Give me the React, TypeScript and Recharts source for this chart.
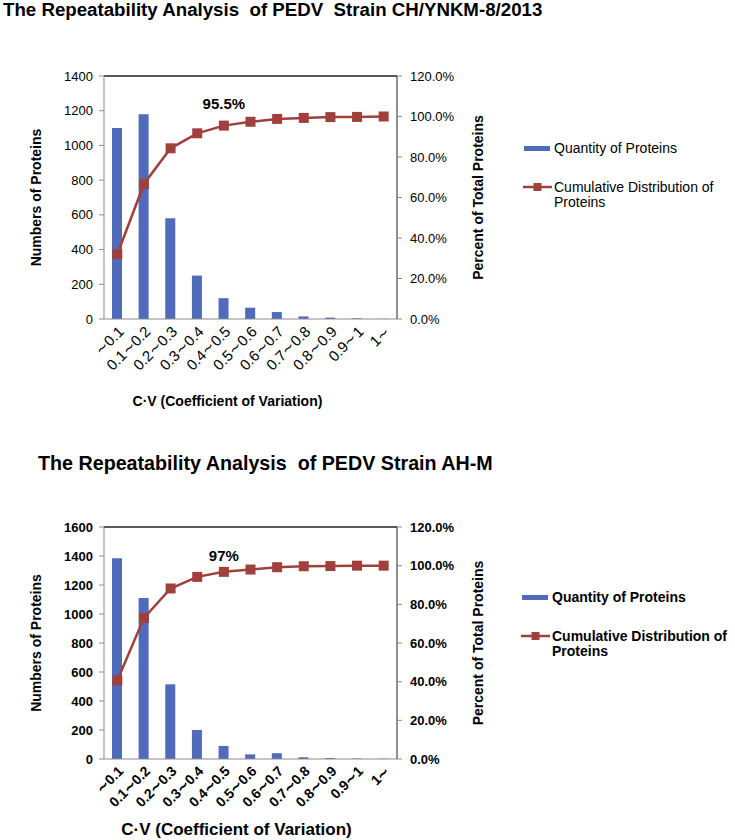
// Two Pareto-style charts: protein count per C·V range (bars) and cumulative share (line)
import * as React from 'react';
import { ComposedChart, Bar, Line, XAxis, YAxis, ReferenceLine, Legend } from 'recharts';

const CV_RANGES = ['∼0.1', '0.1∼0.2', '0.2∼0.3', '0.3∼0.4', '0.4∼0.5', '0.5∼0.6', '0.6∼0.7', '0.7∼0.8', '0.8∼0.9', '0.9∼1', '1∼'];

const QTY_CHKM = [1100, 1180, 580, 250, 120, 65, 40, 15, 8, 4, 1];
const CUM_CHKM = [32.0, 66.7, 84.3, 91.7, 95.5, 97.4, 98.8, 99.3, 99.7, 99.8, 100];
const QTY_AHM = [1385, 1110, 515, 200, 90, 32, 40, 12, 7, 3, 2];
const CUM_AHM = [40.6, 73.0, 88.2, 94.2, 96.8, 98.0, 99.2, 99.7, 99.8, 100, 100];

const COUNT_TICKS_CHKM = [0, 200, 400, 600, 800, 1000, 1200, 1400];
const COUNT_TICKS_AHM = [0, 200, 400, 600, 800, 1000, 1200, 1400, 1600];
const PCT_TICKS = [0, 20, 40, 60, 80, 100, 120];

const TITLE_CHKM = 'The Repeatability Analysis  of PEDV  Strain CH/YNKM-8/2013';
const TITLE_AHM = 'The Repeatability Analysis  of PEDV Strain AH-M';
const NOTE_CHKM = '95.5%';
const NOTE_AHM = '97%';
const NOTE_INDEX = 4;

const FONT = 'Arial, "Liberation Sans", sans-serif';
const BLUE = '#4F6BBA';
const RED = '#A0403C';
const GRAY = '#8C8C8C';

function LegendBox(props: { bold: boolean }) {
  const fw = props.bold ? 'bold' : 'normal';
  return (
    <svg width={215} height={80} style={{ display: 'block', fontFamily: FONT }}>
      <rect x={2} y={10} width={26} height={5} fill={BLUE} />
      <text x={32} y={17} fontSize={14} fontWeight={fw} fill="#000">Quantity of Proteins</text>
      <line x1={1} x2={30} y1={51} y2={51} stroke={RED} strokeWidth={2.5} />
      <rect x={11.5} y={47} width={8} height={8} fill={RED} />
      <text x={32} y={56} fontSize={14} fontWeight={fw} fill="#000">Cumulative Distribution of</text>
      <text x={32} y={71} fontSize={14} fontWeight={fw} fill="#000">Proteins</text>
    </svg>
  );
}

function ParetoChart(props: {
  qty: number[];
  cum: number[];
  countTicks: number[];
  note: string;
  noteGap: number;
  bold: boolean;
  height: number;
  margin: { top: number; right: number; bottom: number; left: number };
  catFontSize: number;
  xAxisHeight: number;
  xLabelSize: number;
  xLabelOffset: number;
  xLabelShift: number;
  legendLeft: number;
  legendTop: number;
}) {
  const data = CV_RANGES.map((range, i) => ({ range, qty: props.qty[i], cum: props.cum[i] }));
  const bounds = CV_RANGES.map((_, i) => i).concat([CV_RANGES.length]);
  const fw = props.bold ? 'bold' : 'normal';
  const tickStyle = { fontSize: 13, fontWeight: fw, fill: '#000' };
  const titleStyle = { fontSize: 14, fontWeight: 'bold', fill: '#000', textAnchor: 'middle' as const };
  const maxCount = props.countTicks[props.countTicks.length - 1];

  const squareDot = (p: any) => (
    <rect key={`dot-${p.index}`} x={p.cx - 5} y={p.cy - 5} width={10} height={10} fill={RED} />
  );
  const noteLabel = (p: any) =>
    p.index === NOTE_INDEX ? (
      <text key="note" x={p.x} y={p.y - props.noteGap} textAnchor="middle" fontSize={15} fontWeight="bold" fill="#000">
        {props.note}
      </text>
    ) : (
      <g key={`note-${p.index}`} />
    );

  return (
    <ComposedChart width={735} height={props.height} data={data} margin={props.margin}>
      <XAxis
        xAxisId="bounds"
        type="number"
        domain={[0, CV_RANGES.length]}
        ticks={bounds}
        tick={false}
        axisLine={false}
        tickLine={{ stroke: GRAY }}
        tickSize={5}
        height={1}
      />
      <XAxis
        dataKey="range"
        interval={0}
        axisLine={{ stroke: GRAY }}
        tickLine={false}
        tickSize={4}
        tick={{ ...tickStyle, fontSize: props.catFontSize, angle: -45, textAnchor: 'end' }}
        height={props.xAxisHeight}
        label={{
          value: 'C·V (Coefficient of Variation)',
          position: 'insideBottom',
          offset: props.xLabelOffset,
          dx: props.xLabelShift,
          style: { ...titleStyle, fontSize: props.xLabelSize },
        }}
      />
      <YAxis
        yAxisId="count"
        width={104}
        domain={[0, maxCount]}
        ticks={props.countTicks}
        interval={0}
        axisLine={{ stroke: GRAY }}
        tickLine={{ stroke: GRAY }}
        tickSize={5}
        tickMargin={6}
        tick={tickStyle}
        label={{ value: 'Numbers of Proteins', angle: -90, position: 'insideLeft', offset: 36, style: titleStyle }}
      />
      <YAxis
        yAxisId="pct"
        orientation="right"
        width={100}
        domain={[0, 120]}
        ticks={PCT_TICKS}
        interval={0}
        axisLine={{ stroke: '#222' }}
        tickLine={{ stroke: GRAY }}
        tickSize={5}
        tickMargin={8}
        tick={tickStyle}
        tickFormatter={(v: number) => `${v.toFixed(1)}%`}
        label={{ value: 'Percent of Total Proteins', angle: -90, position: 'insideLeft', offset: 81, style: titleStyle }}
      />
      <ReferenceLine yAxisId="count" y={maxCount} stroke="#222" strokeWidth={1.5} />
      <Bar dataKey="qty" yAxisId="count" fill={BLUE} barSize={10} isAnimationActive={false} />
      <Line
        dataKey="cum"
        yAxisId="pct"
        type="linear"
        stroke={RED}
        strokeWidth={2.5}
        dot={squareDot}
        activeDot={false}
        label={noteLabel}
        isAnimationActive={false}
      />
      <Legend
        layout="horizontal"
        verticalAlign="middle"
        align="center"
        content={() => <LegendBox bold={props.bold} />}
        wrapperStyle={{ left: props.legendLeft, top: props.legendTop, width: 215, height: 80 }}
      />
    </ComposedChart>
  );
}

export default function App() {
  return (
    <div style={{ position: 'absolute', left: 0, top: 0, width: 735, height: 840, background: '#fff', fontFamily: FONT }}>
      <svg width={735} height={30} style={{ position: 'absolute', left: 0, top: 0 }}>
        <text x={3} y={16} fontSize={18.7} fontWeight="bold" fill="#000" style={{ whiteSpace: 'pre' }}>
          {TITLE_CHKM}
        </text>
      </svg>
      <div style={{ position: 'absolute', left: 0, top: 0 }}>
        <ParetoChart
          qty={QTY_CHKM}
          cum={CUM_CHKM}
          countTicks={COUNT_TICKS_CHKM}
          note={NOTE_CHKM}
          noteGap={17}
          bold={false}
          height={420}
          margin={{ top: 76, right: 238, bottom: 5, left: 0 }}
          catFontSize={15}
          xAxisHeight={95}
          xLabelSize={14}
          xLabelOffset={8}
          xLabelShift={-23}
          legendLeft={522}
          legendTop={136}
        />
      </div>
      <svg width={735} height={30} style={{ position: 'absolute', left: 0, top: 450 }}>
        <text x={38} y={20} fontSize={19.7} fontWeight="bold" fill="#000" style={{ whiteSpace: 'pre' }}>
          {TITLE_AHM}
        </text>
      </svg>
      <div style={{ position: 'absolute', left: 0, top: 420 }}>
        <ParetoChart
          qty={QTY_AHM}
          cum={CUM_AHM}
          countTicks={COUNT_TICKS_AHM}
          note={NOTE_AHM}
          noteGap={11}
          bold={true}
          height={420}
          margin={{ top: 107, right: 238, bottom: 2, left: 0 }}
          catFontSize={14}
          xAxisHeight={78}
          xLabelSize={17}
          xLabelOffset={2}
          xLabelShift={-14}
          legendLeft={520}
          legendTop={165}
        />
      </div>
    </div>
  );
}
